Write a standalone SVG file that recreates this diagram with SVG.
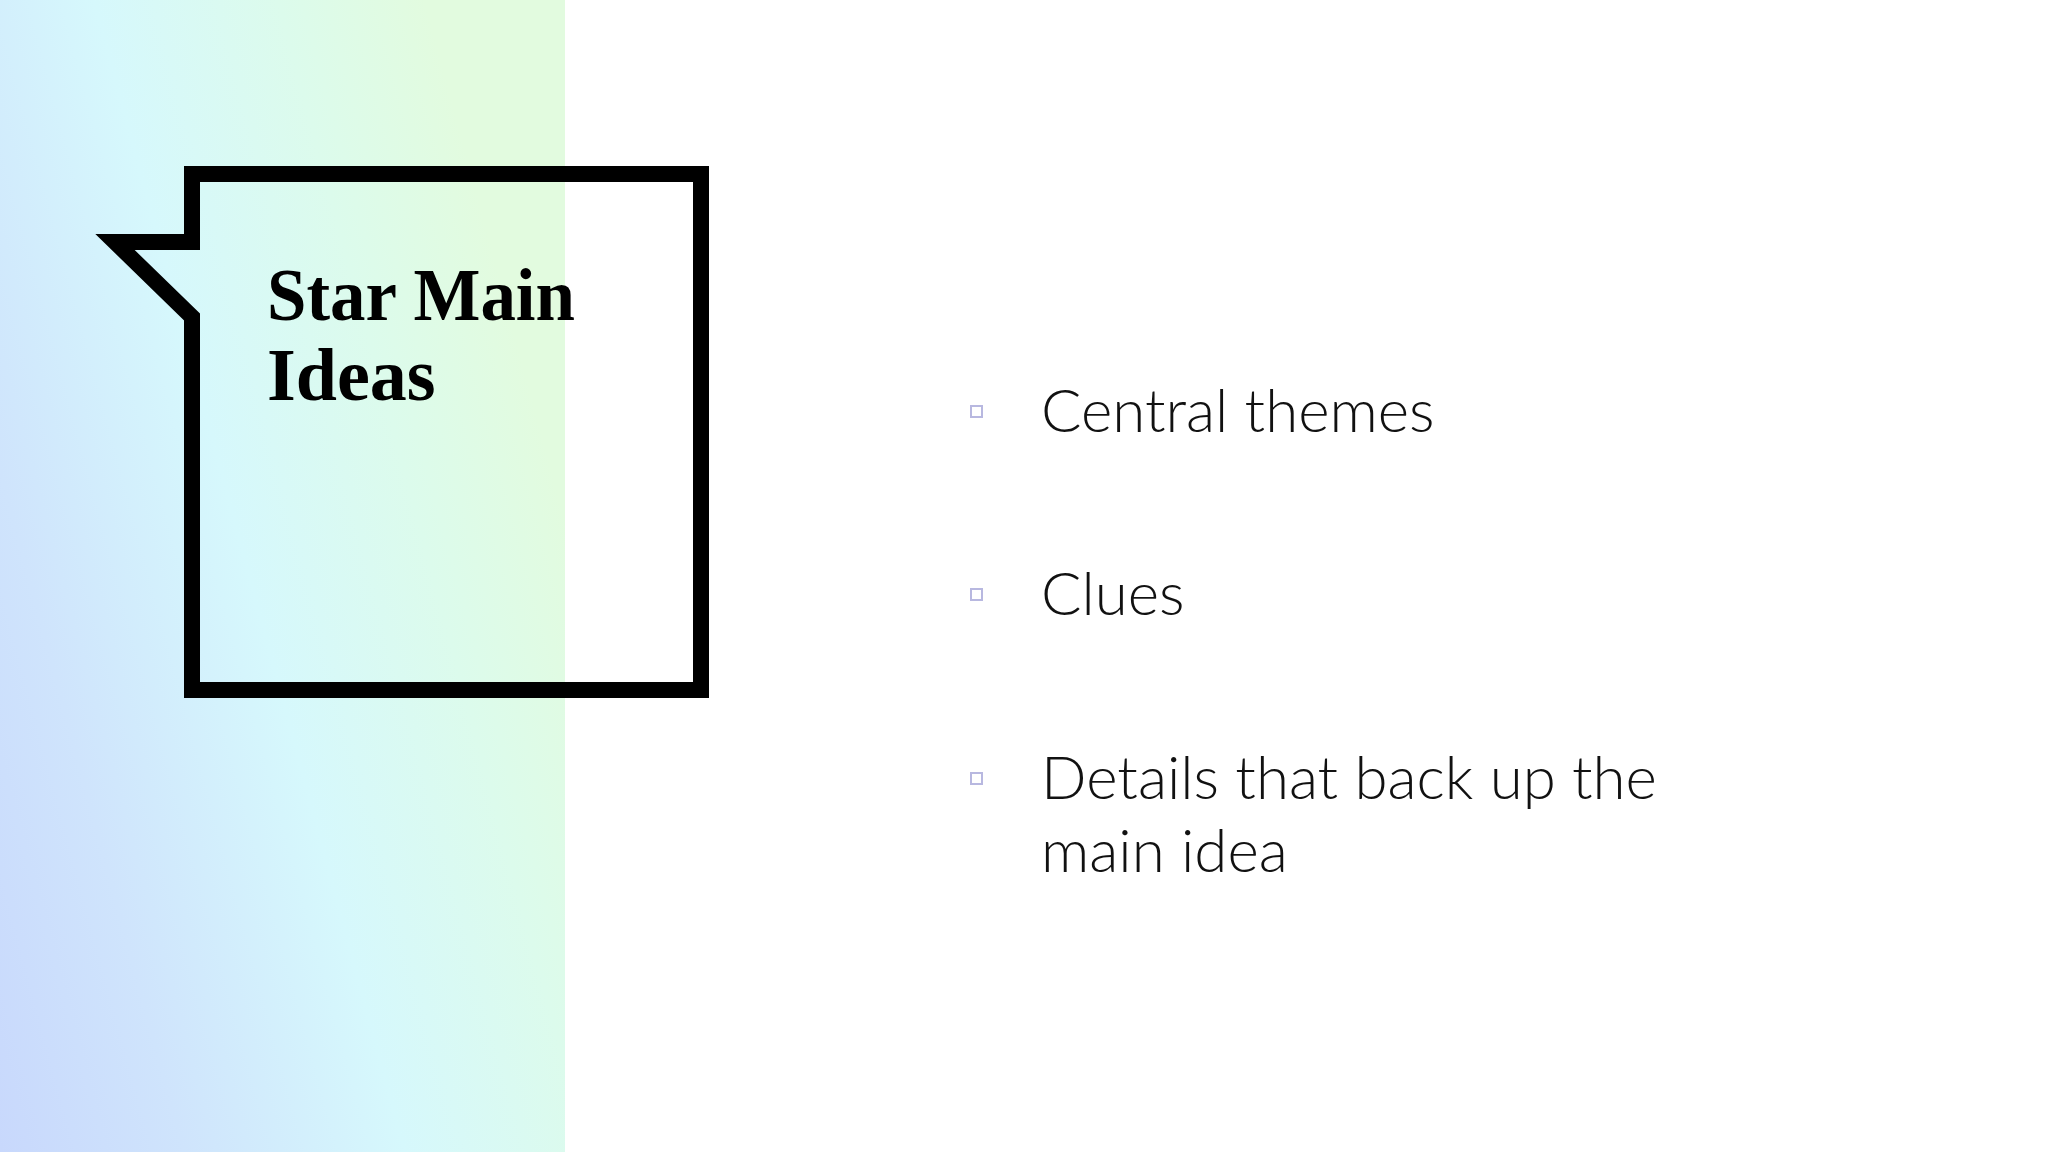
<svg xmlns="http://www.w3.org/2000/svg" width="2048" height="1152" viewBox="0 0 2048 1152">
<defs>
<linearGradient id="bg" x1="0" y1="1" x2="1" y2="0.45">
<stop offset="0" stop-color="#c8d8fc"/>
<stop offset="0.25" stop-color="#cfe4fc"/>
<stop offset="0.55" stop-color="#d6f8fc"/>
<stop offset="0.8" stop-color="#dcfbec"/>
<stop offset="1" stop-color="#e2fbdf"/>
</linearGradient>
<style>
.b{fill:none;stroke:#b8b8e0;stroke-width:2}
.t{font-family:Lato,"Open Sans",sans-serif;font-weight:300;font-size:60px;fill:#111}
.h{font-family:"Liberation Serif",serif;font-weight:bold;font-size:74px;fill:#000}
</style>
</defs>
<rect width="2048" height="1152" fill="#ffffff"/>
<rect width="565" height="1152" fill="url(#bg)"/>
<g id="bubble">
<path d="M192,174 H701 V690 H192 V317 L115,242 H192 Z" fill="none" stroke="#000" stroke-width="16" stroke-linejoin="miter"/>
<text class="h" x="267" y="320" textLength="308" lengthAdjust="spacingAndGlyphs">Star Main</text>
<text class="h" x="267" y="400">Ideas</text>
</g>
<g id="bullets">
<rect class="b" x="971" y="406" width="11" height="11"/>
<text class="t" x="1041" y="432">Central themes</text>
<rect class="b" x="971" y="589" width="11" height="11"/>
<text class="t" x="1041" y="615">Clues</text>
<rect class="b" x="971" y="773" width="11" height="11"/>
<text class="t" x="1041" y="799">Details that back up the</text>
<text class="t" x="1041" y="872">main idea</text>
</g>
</svg>
